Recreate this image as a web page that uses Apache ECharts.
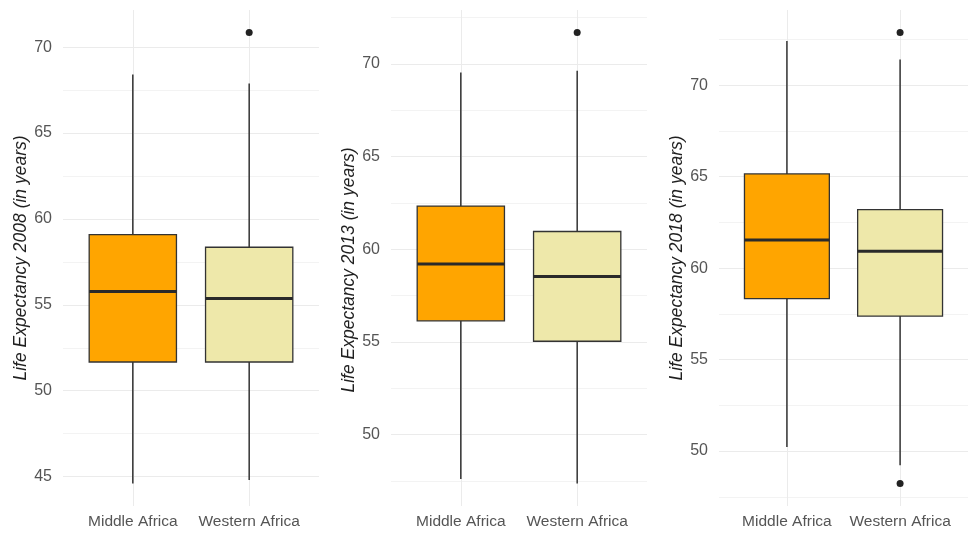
<!DOCTYPE html>
<html>
<head>
<meta charset="utf-8">
<script src="https://cdn.jsdelivr.net/npm/echarts@6/dist/echarts.min.js"></script>
<style>
  html, body { margin: 0; padding: 0; background: #ffffff; }
  #chart { width: 968px; height: 534px; }
</style>
</head>
<body>
<div id="chart"></div>
<script>
// Regions on the x axis
const categories = ['Middle Africa', 'Western Africa'];
const years = ['2008', '2013', '2018'];

// Box statistics per region: [lower whisker, Q1, median, Q3, upper whisker]
const box2008 = [[44.6, 51.67, 55.77, 59.09, 68.41], [44.8, 51.67, 55.36, 58.35, 67.88]];
const box2013 = [[47.61, 56.14, 59.21, 62.33, 69.54], [47.37, 55.04, 58.53, 60.96, 69.63]];
const box2018 = [[50.22, 58.33, 61.54, 65.15, 72.42], [49.22, 57.38, 60.93, 63.20, 71.40]];

// Outlying countries per region
const out2008 = [[], [70.85]];
const out2013 = [[], [71.69]];
const out2018 = [[], [72.88, 48.23]];

const boxFills = ['#FFA500', '#EEE8AA'];

const FONT = '"Liberation Sans", Arial, sans-serif';
const BOX_WIDTH = 0.75;          // in category units
const X_MIN = 0.4, X_MAX = 2.6;  // discrete scale with 0.6 padding
const panelLefts = [63, 391, 719];
const PANEL_W = 256;
const titleShift = [0, 24, 0];

const boxes = [box2008, box2013, box2018];
const outliers = [out2008, out2013, out2018];

function renderBox(params, api) {
  const x = api.value(0);
  const halfW = api.size([BOX_WIDTH, 0])[0] / 2;
  const pLo = api.coord([x, api.value(1)]);
  const pQ1 = api.coord([x, api.value(2)]);
  const pMed = api.coord([x, api.value(3)]);
  const pQ3 = api.coord([x, api.value(4)]);
  const pHi = api.coord([x, api.value(5)]);
  const stroke = '#333333';
  return {
    type: 'group',
    children: [
      { type: 'line', shape: { x1: pHi[0], y1: pHi[1], x2: pQ3[0], y2: pQ3[1] },
        style: { stroke: stroke, lineWidth: 1.5 } },
      { type: 'line', shape: { x1: pQ1[0], y1: pQ1[1], x2: pLo[0], y2: pLo[1] },
        style: { stroke: stroke, lineWidth: 1.5 } },
      { type: 'rect', shape: { x: pQ3[0] - halfW, y: pQ3[1], width: 2 * halfW, height: pQ1[1] - pQ3[1] },
        style: { fill: boxFills[params.dataIndex], stroke: stroke, lineWidth: 1.3 } },
      { type: 'line', shape: { x1: pMed[0] - halfW, y1: pMed[1], x2: pMed[0] + halfW, y2: pMed[1] },
        style: { stroke: '#2a2a2a', lineWidth: 3 } }
    ]
  };
}

const grids = [], xAxes = [], yAxes = [], series = [];

years.forEach(function (year, i) {
  const stats = boxes[i];
  const outs = outliers[i];
  const all = [];
  stats.forEach(function (s) { all.push(s[0], s[4]); });
  outs.forEach(function (list) { list.forEach(function (v) { all.push(v); }); });
  const dMin = Math.min.apply(null, all), dMax = Math.max.apply(null, all);
  const pad = (dMax - dMin) * 0.05;

  grids.push({ left: panelLefts[i], width: PANEL_W, top: 10, height: 496, containLabel: false });

  xAxes.push({
    gridIndex: i, type: 'value', min: X_MIN, max: X_MAX,
    minInterval: 1, maxInterval: 1,
    axisLine: { show: false }, axisTick: { show: false },
    splitLine: { show: true, showMinLine: false, showMaxLine: false,
      lineStyle: { color: '#EBEBEB', width: 1 } },
    axisLabel: {
      showMinLabel: false, showMaxLabel: false, margin: 8,
      color: '#555555', fontSize: 15.5, fontFamily: FONT,
      formatter: function (v) { return Number.isInteger(v) && categories[v - 1] ? categories[v - 1] : ''; }
    }
  });

  yAxes.push({
    gridIndex: i, type: 'value', min: dMin - pad, max: dMax + pad,
    minInterval: 5, maxInterval: 5,
    axisLine: { show: false }, axisTick: { show: false },
    splitLine: { show: true, showMinLine: false, showMaxLine: false,
      lineStyle: { color: '#EBEBEB', width: 1 } },
    minorTick: { show: false, splitNumber: 2 },
    minorSplitLine: { show: true, lineStyle: { color: '#F3F3F3', width: 1 } },
    axisLabel: {
      showMinLabel: false, showMaxLabel: false, margin: 11,
      color: '#555555', fontSize: 16, fontFamily: FONT,
      formatter: function (v) { return v % 5 === 0 ? String(v) : ''; }
    },
    name: 'Life Expectancy ' + year + ' (in years)',
    nameLocation: 'middle', nameRotate: 90, nameGap: 30,
    nameTextStyle: {
      fontStyle: 'italic', fontSize: 17.5, color: '#1f1f1f', fontFamily: FONT,
      padding: [0, titleShift[i], 0, 0]
    }
  });

  series.push({
    type: 'custom', xAxisIndex: i, yAxisIndex: i, z: 3,
    renderItem: renderBox,
    encode: { x: 0, y: [1, 2, 3, 4, 5] },
    data: stats.map(function (s, c) { return [c + 1].concat(s); })
  });

  const pts = [];
  outs.forEach(function (list, c) { list.forEach(function (v) { pts.push([c + 1, v]); }); });
  series.push({
    type: 'scatter', xAxisIndex: i, yAxisIndex: i, z: 4,
    symbol: 'circle', symbolSize: 7,
    itemStyle: { color: '#222222', opacity: 1 },
    emphasis: { disabled: true },
    data: pts
  });
});

const chart = echarts.init(document.getElementById('chart'), null, { renderer: 'canvas' });
chart.setOption({
  animation: false,
  backgroundColor: '#ffffff',
  grid: grids,
  xAxis: xAxes,
  yAxis: yAxes,
  series: series
});
</script>
</body>
</html>
